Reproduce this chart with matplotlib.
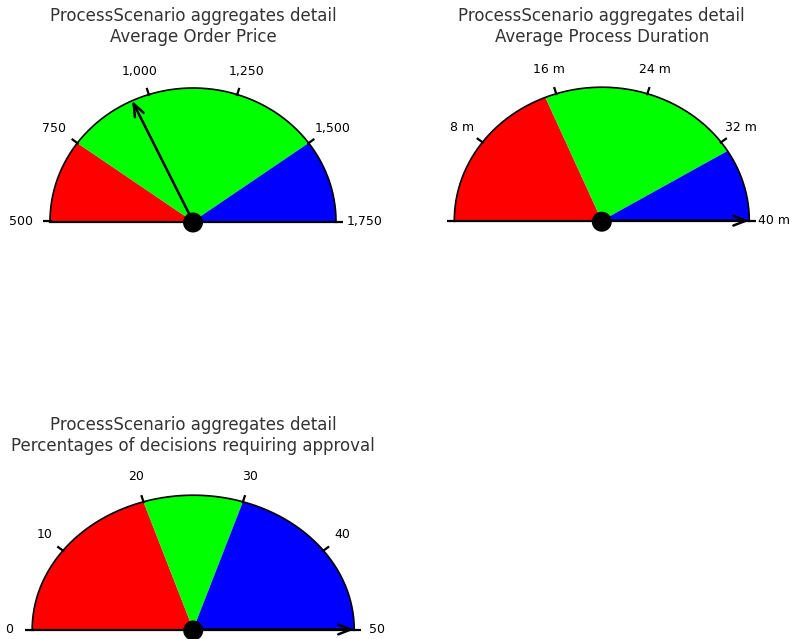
import numpy as np
import matplotlib
matplotlib.use("Agg")
import matplotlib.pyplot as plt
from matplotlib.patches import Wedge, Ellipse

# ---- data -------------------------------------------------------------
suptitle = "ProcessScenario aggregates detail"
gauge_titles = ["Average Order Price",
                "Average Process Duration",
                "Percentages of decisions requiring approval"]
scale_min = [500, 0, 0]
scale_max = [1750, 40, 50]
tick_values = [[500, 750, 1000, 1250, 1500, 1750],
               [0, 8, 16, 24, 32, 40],
               [0, 10, 20, 30, 40, 50]]
tick_labels = [["500", "750", "1,000", "1,250", "1,500", "1,750"],
               ["", "8 m", "16 m", "24 m", "32 m", "40 m"],
               ["0", "10", "20", "30", "40", "50"]]
band_edges = [[500, 750, 1500, 1750],
              [0, 15, 33, 40],
              [0, 20, 30, 50]]
band_colors = ["#ff0000", "#00ff00", "#0000ff"]
needle_values = [950, 40, 50]

# ---- layout (pixels) --------------------------------------------------
W, H = 795, 639
DPI = 100
# centre x, centre y (from top), horizontal radius, vertical radius
geometry = [(193.0, 221.5, 143.0, 133.5),
            (601.8, 220.7, 147.5, 133.5),
            (193.2, 629.5, 161.0, 134.3)]
# label offsets beyond the rim (horizontal, vertical)
label_offsets = [(29, 24), (25, 25), (23, 27)]
title_y = [(16, 37), (16, 37), (425, 446)]

fig = plt.figure(figsize=(W / DPI, H / DPI), dpi=DPI)
fig.patch.set_facecolor("white")

L, B, T = 1.35, 0.25, 1.35


def value_to_angle(v, vmin, vmax):
    return 180.0 * (1.0 - (v - vmin) / (vmax - vmin))


for i in range(3):
    cx, cy, rx, ry = geometry[i]
    ox, oy = label_offsets[i]
    vmin, vmax = scale_min[i], scale_max[i]
    left = (cx - L * rx) / W
    bottom = (H - (cy + B * ry)) / H
    ax = fig.add_axes([left, bottom, 2 * L * rx / W, (B + T) * ry / H])
    ax.set_xlim(-L, L)
    ax.set_ylim(-B, T)
    ax.axis("off")

    # coloured bands
    edges = band_edges[i]
    for k in range(len(edges) - 1):
        a1 = value_to_angle(edges[k + 1], vmin, vmax)
        a2 = value_to_angle(edges[k], vmin, vmax)
        ax.add_patch(Wedge((0, 0), 1.0, a1, a2, facecolor=band_colors[k],
                           edgecolor="none", zorder=1))

    # rim and base line
    th = np.linspace(0, np.pi, 300)
    ax.plot(np.cos(th), np.sin(th), color="black", lw=1.2, zorder=3,
            solid_capstyle="butt")
    ax.plot([-1, 1], [0, 0], color="black", lw=1.6, zorder=3)

    # ticks and labels
    for v, lab in zip(tick_values[i], tick_labels[i]):
        a = np.radians(value_to_angle(v, vmin, vmax))
        c, s = np.cos(a), np.sin(a)
        r_in_x, r_in_y = 1 - 1.5 / rx, 1 - 1.5 / ry
        r_out_x, r_out_y = 1 + 7 / rx, 1 + 7 / ry
        ax.plot([c * r_in_x, c * r_out_x], [s * r_in_y, s * r_out_y],
                color="black", lw=1.6, zorder=4, clip_on=False,
                solid_capstyle="butt")
        if lab:
            ax.text(c * (1 + ox / rx), s * (1 + oy / ry), lab,
                    ha="center", va="center", fontsize=9,
                    family="DejaVu Sans", color="black", clip_on=False)

    # needle
    a = np.radians(value_to_angle(needle_values[i], vmin, vmax))
    ax.annotate("", xy=(np.cos(a), np.sin(a)), xytext=(0, 0),
                arrowprops=dict(arrowstyle="->,head_length=0.9,head_width=0.35",
                                color="black", lw=1.8, shrinkA=0, shrinkB=0),
                zorder=5)

    # hub
    ax.add_patch(Ellipse((0, -1.0 / ry), 20.0 / rx, 20.0 / ry,
                         facecolor="black", edgecolor="none", zorder=6,
                         clip_on=False))

    # titles
    for line, ty in zip([suptitle, gauge_titles[i]], title_y[i]):
        fig.text(cx / W, 1 - ty / H, line, ha="center", va="center",
                 fontsize=12, family="DejaVu Sans", color="#333333")

fig.savefig("out.png", dpi=DPI, facecolor="white")
